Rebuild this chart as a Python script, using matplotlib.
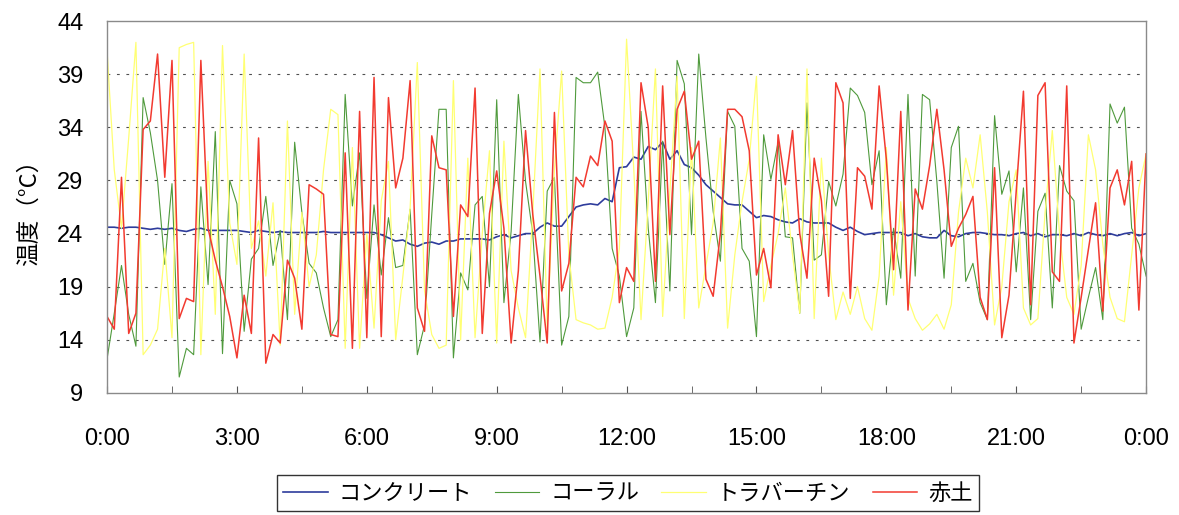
import numpy as np
import matplotlib
matplotlib.use("Agg")
import matplotlib.pyplot as plt

plt.rcParams["font.family"] = ["Liberation Sans", "Noto Sans CJK JP", "DejaVu Sans"]

# 10-minute readings, 0:00 through 24:00 (145 samples per series)
concrete = [
    24.6, 24.6, 24.5, 24.6, 24.6, 24.5, 24.4, 24.5, 24.4, 24.5,
    24.3, 24.2, 24.4, 24.5, 24.3, 24.3, 24.3, 24.3, 24.3, 24.2,
    24.1, 24.3, 24.2, 24.1, 24.2, 24.1, 24.1, 24.1, 24.1, 24.1,
    24.2, 24.1, 24.1, 24.1, 24.1, 24.1, 24.1, 24.1, 23.9, 23.6,
    23.3, 23.4, 23.0, 22.8, 23.1, 23.2, 23.0, 23.3, 23.3, 23.5,
    23.5, 23.5, 23.5, 23.4, 23.7, 23.9, 23.6, 23.8, 24.0, 24.0,
    24.6, 25.0, 24.7, 24.7, 25.6, 26.5, 26.7, 26.8, 26.7, 27.3,
    27.0, 30.2, 30.3, 31.2, 31.0, 32.2, 31.9, 32.6, 31.0, 31.8,
    30.5, 30.2, 29.5, 28.6, 28.0, 27.4, 26.8, 26.7, 26.7, 26.1,
    25.5, 25.7, 25.6, 25.3, 25.1, 25.0, 25.4, 25.1, 25.0, 25.0,
    25.0, 24.6, 24.3, 24.6, 24.2, 23.9, 24.0, 24.1, 24.1, 24.1,
    24.1, 23.8, 24.0, 23.7, 23.6, 23.6, 24.3, 23.8, 23.7, 24.0,
    24.1, 24.1, 24.0, 23.9, 23.9, 23.8, 24.0, 24.1, 23.8, 24.0,
    23.7, 23.9, 23.9, 23.8, 24.0, 23.8, 24.1, 23.9, 23.8, 24.0,
    23.8, 24.0, 24.1, 23.8, 24.0,
]
coral = [
    12.2, 16.5, 21.0, 16.4, 13.4, 36.8, 33.5, 29.0, 21.1, 28.7,
    10.5, 13.2, 12.6, 28.4, 19.2, 33.6, 12.7, 29.0, 26.8, 14.8,
    21.6, 22.6, 27.5, 21.0, 24.3, 15.9, 32.6, 26.0, 21.2, 20.3,
    17.0, 14.3, 15.9, 37.1, 26.6, 31.6, 17.9, 26.7, 20.1, 25.5,
    20.8, 21.0, 26.3, 12.6, 15.4, 25.8, 35.7, 35.7, 12.3, 20.3,
    18.7, 26.7, 27.5, 19.0, 36.6, 17.5, 24.2, 37.1, 28.9, 24.0,
    13.8, 28.0, 29.3, 13.5, 16.2, 38.7, 38.2, 38.2, 39.2, 34.0,
    22.6, 20.0, 14.3, 17.0, 35.5, 24.5, 17.5, 32.7, 18.6, 40.3,
    38.1, 23.9, 40.9, 33.0, 26.1, 21.4, 35.5, 34.1, 22.6, 21.4,
    14.3, 33.3, 29.1, 32.6, 23.7, 23.6, 16.5, 36.3, 21.5, 22.0,
    28.9, 26.6, 29.6, 37.7, 37.0, 35.4, 28.6, 31.8, 17.3, 24.5,
    19.8, 37.1, 20.0, 37.1, 36.6, 28.9, 19.8, 32.1, 34.1, 19.5,
    21.2, 17.5, 15.9, 35.1, 27.7, 29.9, 20.4, 28.3, 15.9, 26.1,
    27.8, 17.0, 30.4, 28.0, 27.1, 15.0, 18.0, 20.8, 15.9, 36.2,
    34.4, 35.9, 24.5, 23.0, 20.0,
]
travertine = [
    41.2, 30.0, 24.5, 33.0, 42.0, 12.6, 13.5, 15.0, 22.6, 14.2,
    41.5, 41.8, 42.0, 12.6, 30.8, 16.4, 41.7, 25.0, 21.1, 40.9,
    22.6, 25.2, 20.0, 26.9, 13.5, 34.6, 16.4, 26.0, 19.0, 22.0,
    30.0, 35.7, 35.2, 13.2, 32.1, 13.2, 24.0, 15.1, 27.1, 30.8,
    14.0, 20.0, 26.4, 40.1, 18.6, 14.5, 13.2, 13.5, 38.4, 14.0,
    31.1, 14.2, 24.0, 31.8, 13.7, 32.7, 20.5, 17.0, 14.2, 26.0,
    39.5, 15.1, 30.0, 39.3, 22.0, 15.9, 15.6, 15.4, 15.0, 15.1,
    18.0, 22.6, 42.3, 30.0, 15.9, 27.0, 39.5, 16.2, 28.0, 38.8,
    16.0, 32.1, 17.0, 21.0, 25.0, 33.0, 15.1, 22.0, 27.0, 31.0,
    38.8, 17.6, 21.0, 24.0, 28.3, 22.0, 16.5, 39.5, 16.0, 31.1,
    22.0, 15.9, 18.5, 16.4, 19.0, 16.0, 14.9, 20.0, 32.1, 18.2,
    27.0, 17.9, 16.0, 14.9, 15.5, 16.4, 15.0, 17.3, 26.0, 31.1,
    28.3, 33.3, 26.0, 15.4, 19.0, 27.0, 30.0, 17.0, 15.4, 16.0,
    26.0, 33.7, 24.0, 18.0, 16.4, 21.0, 33.3, 30.0, 23.0, 18.0,
    16.0, 15.7, 22.0, 28.3, 31.5,
]
red_soil = [
    16.2, 15.0, 29.3, 14.6, 16.5, 33.8, 34.6, 40.9, 29.3, 40.3,
    16.0, 17.9, 17.6, 40.3, 24.5, 21.5, 19.0, 16.2, 12.3, 18.2,
    14.6, 33.0, 11.8, 14.5, 13.7, 21.5, 19.8, 15.0, 28.6, 28.2,
    27.7, 14.5, 14.3, 31.6, 13.2, 35.5, 14.2, 38.7, 14.3, 36.8,
    28.3, 31.1, 38.4, 17.0, 14.8, 33.2, 30.2, 30.0, 16.2, 26.7,
    25.6, 37.7, 14.6, 25.9, 29.9, 24.5, 13.7, 20.5, 33.7, 25.8,
    20.0, 13.7, 35.4, 18.6, 21.2, 29.3, 28.4, 31.3, 30.4, 34.6,
    32.7, 17.5, 20.8, 19.5, 38.2, 34.0, 19.5, 37.9, 23.9, 35.7,
    37.4, 31.0, 32.7, 19.7, 18.1, 24.0, 35.7, 35.7, 35.0, 31.8,
    20.1, 22.6, 18.9, 33.3, 28.6, 33.7, 24.0, 19.8, 31.1, 27.1,
    18.1, 38.2, 36.3, 17.9, 30.2, 29.4, 26.3, 37.9, 31.0, 20.6,
    35.5, 16.8, 28.2, 26.3, 30.4, 35.7, 30.0, 22.8, 24.5, 25.8,
    27.5, 18.0, 15.9, 30.2, 14.2, 18.2, 28.0, 37.4, 17.3, 37.0,
    38.2, 20.4, 19.5, 37.9, 13.7, 18.0, 22.5, 26.9, 16.7, 28.3,
    30.0, 26.7, 30.8, 16.8, 31.5,
]

series = [
    ("コンクリート", concrete, "#2e3c9c", 1.2),
    ("コーラル", coral, "#4f9a3c", 0.8),
    ("トラバーチン", travertine, "#ffff73", 0.9),
    ("赤土", red_soil, "#f23a30", 1.1),
]
for name, vals, _, _ in series:
    if len(vals) != 145:
        raise ValueError("{} has {} samples".format(name, len(vals)))

y_ticks = [9, 14, 19, 24, 29, 34, 39, 44]
x_labels = ["0:00", "3:00", "6:00", "9:00", "12:00", "15:00", "18:00", "21:00", "0:00"]

cjk = ["Noto Sans CJK JP", "DejaVu Sans"]

fig = plt.figure(figsize=(11.79, 5.15), dpi=100)
ax = fig.add_axes([0.0908, 0.237, 0.8813, 0.722])

x = np.arange(145)
for name, vals, color, lw in series:
    ax.plot(x, vals, color=color, lw=lw, label=name)

ax.set_xlim(0, 144)
ax.set_ylim(9, 44)
ax.set_yticks(y_ticks)
ax.set_xticks(np.arange(0, 145, 18))
ax.set_xticks(np.arange(0, 145, 9), minor=True)
ax.set_xticklabels(x_labels)

for v in y_ticks[1:-1]:
    ax.axhline(v, color="#505050", lw=0.8, ls=(0, (2.5, 6)), zorder=0)

for s in ax.spines.values():
    s.set_color("#8a8a8a")
    s.set_linewidth(1.0)

ax.tick_params(axis="x", which="both", direction="in", length=5, color="#555555",
               labelsize=17, pad=25)
ax.tick_params(axis="y", length=0, labelsize=17, pad=17)
ax.set_ylabel("温度（°C）", fontsize=17, labelpad=12, family=cjk)

leg = fig.legend(loc="upper center", bbox_to_anchor=(0.5327, 1 - 475 / 515), ncol=4,
                 frameon=True, fancybox=False, edgecolor="black", borderaxespad=0,
                 handlelength=2.0, columnspacing=1.0, handletextpad=0.5,
                 borderpad=0.3, prop={"family": cjk, "size": 16})
leg.get_frame().set_linewidth(1.0)

fig.savefig("out.png", dpi=100)
